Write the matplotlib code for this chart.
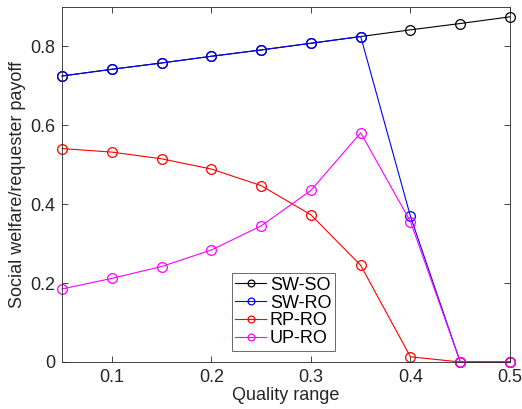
import numpy as np
import matplotlib.pyplot as plt

plt.rcParams["font.family"] = ["Liberation Sans", "DejaVu Sans"]

quality = [0.05, 0.10, 0.15, 0.20, 0.25, 0.30, 0.35, 0.40, 0.45, 0.50]
sw_so = [0.725, 0.742, 0.758, 0.775, 0.791, 0.808, 0.825, 0.842, 0.858, 0.875]
sw_ro = [0.725, 0.742, 0.758, 0.775, 0.791, 0.808, 0.825, 0.369, 0.0, 0.0]
rp_ro = [0.541, 0.532, 0.515, 0.489, 0.447, 0.373, 0.245, 0.013, 0.0, 0.0]
up_ro = [0.185, 0.212, 0.242, 0.284, 0.345, 0.435, 0.581, 0.356, 0.0, 0.0]

series = [
    ("SW-SO", sw_so, "black"),
    ("SW-RO", sw_ro, "blue"),
    ("RP-RO", rp_ro, "red"),
    ("UP-RO", up_ro, "magenta"),
]

fig = plt.figure(figsize=(5.22, 4.09), dpi=100)
ax = fig.add_axes([0.119, 0.115, 0.858, 0.868])

for label, vals, color in series:
    ax.plot(quality, vals, color=color, lw=0.8, marker="o", markersize=7,
            markerfacecolor="none", markeredgewidth=0.9, label=label,
            clip_on=False)

ax.set_xlim(0.05, 0.5)
ax.set_ylim(0, 0.9)
ax.set_xticks([0.1, 0.2, 0.3, 0.4, 0.5])
ax.set_xticklabels(["0.1", "0.2", "0.3", "0.4", "0.5"])
ax.set_yticks([0, 0.2, 0.4, 0.6, 0.8])
ax.set_yticklabels(["0", "0.2", "0.4", "0.6", "0.8"])
ax.tick_params(direction="in", top=True, right=True, labelsize=13,
               colors="#262626", length=4, width=0.6, pad=5)
for sp in ax.spines.values():
    sp.set_linewidth(0.6)
    sp.set_color("#262626")

ax.set_xlabel("Quality range", fontsize=13, color="#262626", labelpad=1)
ax.set_ylabel("Social welfare/requester payoff", fontsize=13, color="#262626", labelpad=3)

leg = ax.legend(loc="lower left", bbox_to_anchor=(0.379, 0.031), fontsize=13,
                frameon=True, fancybox=False, edgecolor="#262626",
                handlelength=1.7, handletextpad=0.2, borderpad=0.2,
                labelspacing=0.05, borderaxespad=0, markerscale=0.7)
leg.get_frame().set_linewidth(0.6)

fig.savefig("out.png", dpi=100)
